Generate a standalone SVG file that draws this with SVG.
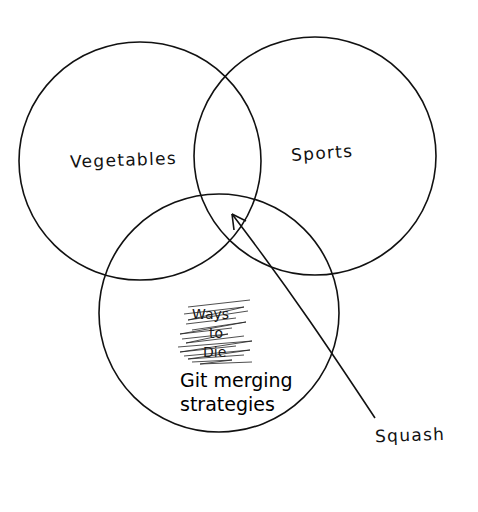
<svg xmlns="http://www.w3.org/2000/svg" width="478" height="512" viewBox="0 0 478 512">
<style>
.c{fill:none;stroke:#111;stroke-width:1.6}
.h{font-family:"DejaVu Sans","Liberation Sans",sans-serif;font-size:17px;fill:#111;letter-spacing:1.3px}
.s{font-family:"DejaVu Sans","Liberation Sans",sans-serif;font-size:19px;fill:#000}
.w{font-family:"DejaVu Sans","Liberation Sans",sans-serif;font-size:14px;fill:#111}
.sc{fill:none;stroke:#222;stroke-width:0.8}
</style>
<rect width="478" height="512" fill="#fff"/>
<g id="vegetables"><ellipse class="c" cx="140" cy="161" rx="121" ry="119"/><text class="h" x="70" y="166" letter-spacing="0.6" transform="rotate(-2 120 160)">Vegetables</text></g>
<g id="sports"><ellipse class="c" cx="315" cy="156" rx="121" ry="119"/><text class="h" x="291" y="159" transform="rotate(-4 320 152)">Sports</text></g>
<g id="git"><ellipse class="c" cx="219" cy="313" rx="120" ry="119"/>
<text class="w" x="192" y="319">Ways</text>
<text class="w" x="209" y="338">to</text>
<text class="w" x="203" y="357">Die</text>
<path class="sc" d="M188 307 L250 300 M184 314 L244 307 L188 320 L248 311 M186 324 L236 318 M192 330 L246 322 L180 334 L232 328 M182 339 L228 334 L186 343 L244 336 M178 347 L252 341 L180 352 L236 346 M184 356 L250 350 L188 359 L244 355 M192 362 L232 360 L200 364 L252 362"/>
<text class="s" x="180" y="387">Git merging</text><text class="s" x="180" y="411">strategies</text></g>
<g id="squash"><text class="h" x="375" y="441" letter-spacing="2.2" transform="rotate(-2 410 435)">Squash</text></g>
<g id="connectors"><path class="c" d="M375 418 C330 350 290 290 232 214"/><path class="c" d="M232 214 L234 230 M232 214 L246 221"/></g>
</svg>
